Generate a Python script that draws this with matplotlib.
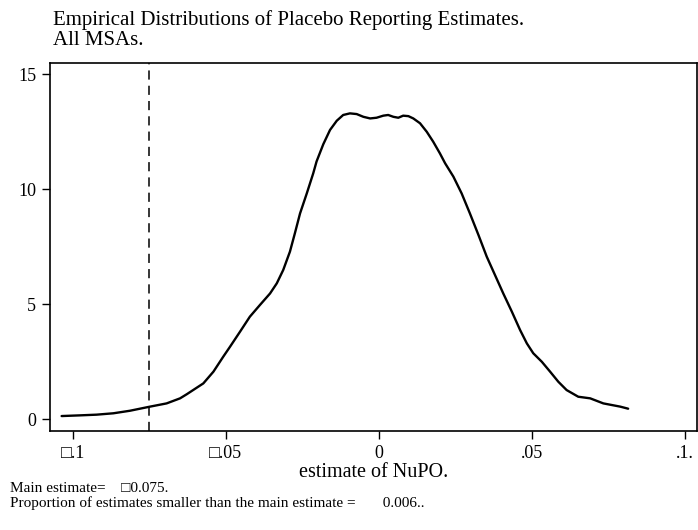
import matplotlib
matplotlib.use('Agg')
import matplotlib.pyplot as plt

plt.rcParams['font.family'] = ['Liberation Serif', 'DejaVu Sans']

# density of placebo estimates
est = [-0.1037, -0.0977, -0.0923, -0.0868, -0.0814, -0.0748, -0.0694, -0.0650,
       -0.0628, -0.0574, -0.0541, -0.0509, -0.0487, -0.0454, -0.0422, -0.0389,
       -0.0356, -0.0334, -0.0313, -0.0291, -0.0275, -0.0258, -0.0236, -0.0215,
       -0.0204, -0.0182, -0.0160, -0.0138, -0.0117, -0.0095, -0.0073, -0.0051,
       -0.0029, -0.0008, 0.0014, 0.0030, 0.0047, 0.0063, 0.0079, 0.0096,
       0.0112, 0.0134, 0.0156, 0.0177, 0.0199, 0.0216, 0.0243, 0.0270,
       0.0297, 0.0325, 0.0352, 0.0379, 0.0406, 0.0434, 0.0461, 0.0483,
       0.0504, 0.0532, 0.0559, 0.0586, 0.0613, 0.0651, 0.0690, 0.0733,
       0.0788, 0.0814]
dens = [0.13, 0.16, 0.19, 0.25, 0.36, 0.54, 0.68, 0.90,
        1.08, 1.55, 2.06, 2.71, 3.14, 3.80, 4.45, 4.96,
        5.46, 5.90, 6.48, 7.28, 8.07, 8.94, 9.81, 10.68,
        11.20, 11.95, 12.57, 12.97, 13.22, 13.29, 13.26, 13.14,
        13.07, 13.10, 13.19, 13.22, 13.14, 13.10, 13.19, 13.17,
        13.07, 12.86, 12.49, 12.06, 11.55, 11.12, 10.54, 9.81,
        8.94, 8.00, 7.06, 6.26, 5.46, 4.67, 3.87, 3.29,
        2.86, 2.49, 2.06, 1.62, 1.26, 0.97, 0.90, 0.68,
        0.54, 0.45]
main_est = -0.075
prop_smaller = 0.006

xticks = [-0.1, -0.05, 0, 0.05, 0.1]
xticklabels = ['\u25a1.1', '\u25a1.05', '0', '.05', '.1.']
yticks = [0, 5, 10, 15]

W, H = 698, 530
fig = plt.figure(figsize=(W / 100, H / 100), dpi=100)
ax = fig.add_axes([50 / W, (H - 431) / H, 647 / W, 368 / H])

ax.plot(est, dens, color='black', lw=1.7, solid_capstyle='round',
        solid_joinstyle='round')
ax.axvline(main_est, color='black', lw=1.1, dashes=(6, 4))

ax.set_xlim(-0.1075, 0.1039)
ax.set_ylim(-0.52, 15.48)
ax.set_xticks(xticks)
ax.set_xticklabels(xticklabels)
ax.set_yticks(yticks)
ax.tick_params(direction='out', length=6, width=1, labelsize=13, pad=4)
for s in ax.spines.values():
    s.set_linewidth(1.2)
ax.set_xlabel('estimate of NuPO.', fontsize=14.5, labelpad=1)

# two-line title, set tight like the original
fig.text(53 / W, 1 - 25 / H, 'Empirical Distributions of Placebo Reporting Estimates.',
         fontsize=15, va='baseline', ha='left')
fig.text(53 / W, 1 - 45 / H, 'All MSAs.', fontsize=15, va='baseline', ha='left')

# notes under the chart
fig.text(10 / W, 1 - 492 / H, 'Main estimate=    \u25a1%.3f.' % abs(main_est),
         fontsize=11, va='baseline', ha='left')
fig.text(10 / W, 1 - 507 / H,
         'Proportion of estimates smaller than the main estimate =       %.3f..' % prop_smaller,
         fontsize=11, va='baseline', ha='left')

fig.savefig('out.png', dpi=100)
